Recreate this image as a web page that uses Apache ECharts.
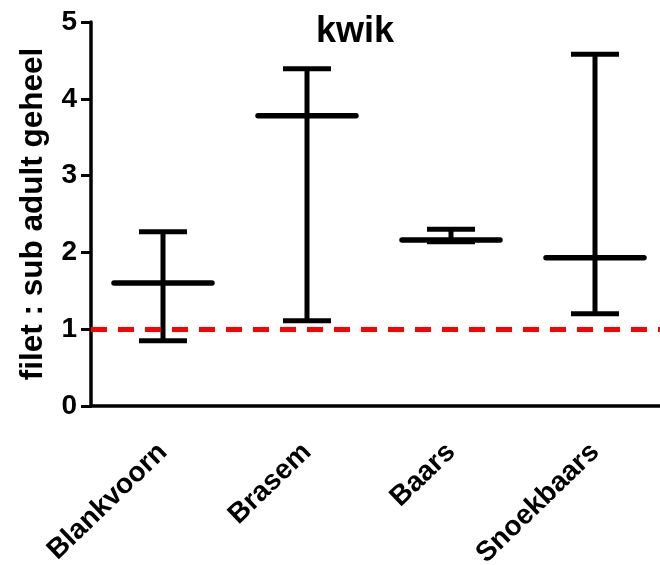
<!DOCTYPE html>
<html>
<head>
<meta charset="utf-8">
<script src="https://cdn.jsdelivr.net/npm/echarts@6/dist/echarts.min.js"></script>
<style>
  html, body { margin: 0; padding: 0; background: #fff; }
  #chart { width: 660px; height: 565px; }
</style>
</head>
<body>
<div id="chart"></div>
<script>
// Fish species (x categories)
const species = ['Blankvoorn', 'Brasem', 'Baars', 'Snoekbaars'];
// Central value per species
const meanValues = [1.60, 3.78, 2.16, 1.93];
// Upper and lower whisker ends
const upperValues = [2.27, 4.39, 2.30, 4.58];
const lowerValues = [0.85, 1.11, 2.14, 1.20];
// Reference ratio drawn as a dashed line
const referenceLevel = 1;
const yTicks = [0, 1, 2, 3, 4, 5];

const FONT = 'Arial, "Liberation Sans", sans-serif';

const chart = echarts.init(document.getElementById('chart'), null, { renderer: 'canvas' });

const rows = species.map((s, i) => [i, meanValues[i], lowerValues[i], upperValues[i]]);

chart.setOption({
  animation: false,
  backgroundColor: '#ffffff',
  title: {
    text: 'kwik',
    left: 311,
    top: 9,
    textStyle: { fontFamily: FONT, fontWeight: 'bold', fontSize: 36, color: '#000' }
  },
  grid: {
    left: 91, top: 22, width: 576, height: 384,
    containLabel: false,
    outerBoundsMode: 'none'
  },
  xAxis: {
    type: 'category',
    data: species,
    boundaryGap: true,
    axisLine: { lineStyle: { color: '#000', width: 3.5 } },
    axisTick: { alignWithLabel: true, length: 10, lineStyle: { color: '#000', width: 3 } },
    axisLabel: {
      rotate: 44, margin: 42, interval: 0, hideOverlap: false,
      fontFamily: FONT, fontWeight: 'bold', fontSize: 28, color: '#000'
    },
    splitLine: { show: false }
  },
  yAxis: {
    type: 'value',
    min: yTicks[0], max: yTicks[yTicks.length - 1], interval: 1,
    name: 'filet : sub adult geheel',
    nameLocation: 'middle',
    nameRotate: 90,
    nameGap: 42,
    nameTextStyle: { fontFamily: FONT, fontWeight: 'bold', fontSize: 31.5, color: '#000' },
    axisLine: { show: true, lineStyle: { color: '#000', width: 3.5 } },
    axisTick: { show: true, length: 10, lineStyle: { color: '#000', width: 3 } },
    axisLabel: { margin: 14, fontFamily: FONT, fontWeight: 'bold', fontSize: 28, color: '#000' },
    splitLine: { show: false }
  },
  series: [{
    type: 'custom',
    data: rows,
    encode: { x: 0, y: [1, 2, 3] },
    clip: false,
    renderItem: function (params, api) {
      const x = api.value(0);
      const mid = api.coord([x, api.value(1)]);
      const lo = api.coord([x, api.value(2)]);
      const hi = api.coord([x, api.value(3)]);
      const stroke = { stroke: '#000', lineWidth: 5 };
      return {
        type: 'group',
        children: [
          { type: 'line', shape: { x1: mid[0], y1: hi[1], x2: mid[0], y2: lo[1] }, style: stroke },
          { type: 'line', shape: { x1: mid[0] - 24, y1: hi[1], x2: mid[0] + 24, y2: hi[1] }, style: stroke },
          { type: 'line', shape: { x1: mid[0] - 24, y1: lo[1], x2: mid[0] + 24, y2: lo[1] }, style: stroke },
          { type: 'line', shape: { x1: mid[0] - 49, y1: mid[1], x2: mid[0] + 49, y2: mid[1] },
            style: { stroke: '#000', lineWidth: 5.5, lineCap: 'round' } }
        ]
      };
    },
    markLine: {
      silent: true,
      symbol: ['none', 'none'],
      label: { show: false },
      lineStyle: { color: '#ff0000', width: 5, type: [16, 11] },
      data: [{ yAxis: referenceLevel }]
    },
    z: 3
  }]
});
</script>
</body>
</html>
